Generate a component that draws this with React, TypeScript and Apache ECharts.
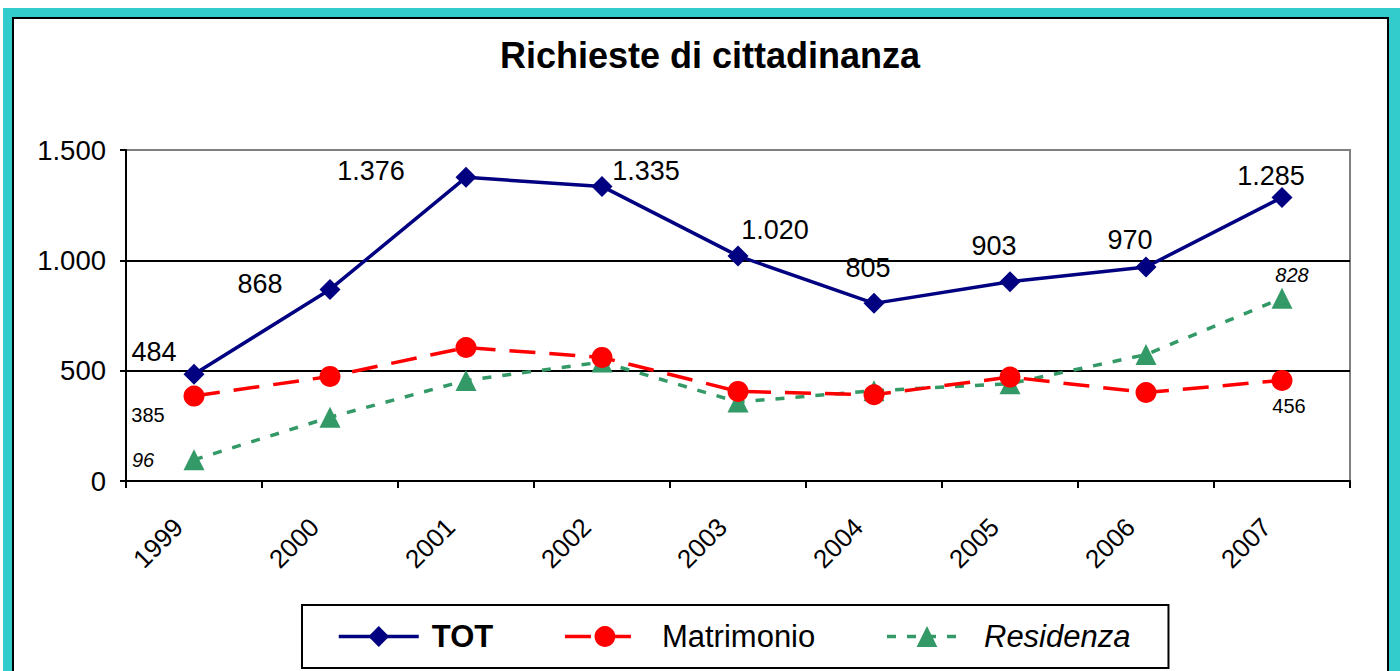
import React, { useEffect, useRef } from 'react';
import * as echarts from 'echarts';

const years = ['1999', '2000', '2001', '2002', '2003', '2004', '2005', '2006', '2007'];
const totValues = [484, 868, 1376, 1335, 1020, 805, 903, 970, 1285];
const matrimonioValues = [385, 474, 605, 560, 406, 391, 471, 401, 456];
const residenzaValues = [96, 289, 456, 539, 358, 409, 441, 573, 828];
const yMin = 0;
const yMax = 1500;
const yStep = 500;

// label layout (offsets from the marker, in px)
const totLabelOffsets = [[-40, -22], [-70, -5], [-95, -6], [44, -15], [37, -26], [-6, -35], [-16, -36], [-16, -27], [-11, -21]];
const matrimonioLabelOffsets: Record<number, number[]> = { 0: [-46, 19], 8: [7, 26] };
const residenzaLabelOffsets: Record<number, number[]> = { 0: [-51, 0], 8: [10, -23] };

const FONT = '"Liberation Sans", Arial, sans-serif';
const fmt = (v: number) => String(v).replace(/\B(?=(\d{3})+(?!\d))/g, '.');

export default function App() {
  const ref = useRef<HTMLDivElement>(null);
  useEffect(() => {
    if (!ref.current) return;
    const chart = echarts.init(ref.current, undefined, { renderer: 'svg' });
    const mkData = (vals: number[], offsets: Record<number, number[]>, size: number, italic: boolean) =>
      vals.map((v, i) => ({
        value: v,
        label: offsets[i]
          ? {
              show: true,
              position: 'inside',
              offset: offsets[i],
              formatter: fmt(v),
              fontSize: size,
              fontStyle: italic ? 'italic' : 'normal',
              color: '#000',
              fontFamily: FONT,
            }
          : { show: false },
      }));
    const totOffsets: Record<number, number[]> = {};
    totLabelOffsets.forEach((o, i) => (totOffsets[i] = o));
    chart.setOption({
      animation: false,
      backgroundColor: 'transparent',
      textStyle: { fontFamily: FONT },
      title: {
        text: 'Richieste di cittadinanza',
        left: 495,
        top: 32,
        textStyle: { fontSize: 36, fontWeight: 'bold', color: '#000', fontFamily: FONT },
      },
      grid: {
        left: 126,
        right: 50,
        top: 150,
        bottom: 190,
        show: true,
        borderColor: '#808080',
        borderWidth: 2,
        backgroundColor: 'transparent',
      },
      xAxis: {
        type: 'category',
        data: years,
        boundaryGap: true,
        axisLine: { show: true, lineStyle: { color: '#000', width: 2 } },
        axisTick: { show: true, length: 7, lineStyle: { color: '#000', width: 2 } },
        axisLabel: {
          rotate: 45,
          fontSize: 26,
          color: '#000',
          margin: 26,
          padding: [0, 22, 0, 0],
          fontFamily: FONT,
        },
        splitLine: { show: false },
      },
      yAxis: {
        type: 'value',
        min: yMin,
        max: yMax,
        interval: yStep,
        axisLine: { show: true, lineStyle: { color: '#000', width: 2 } },
        axisTick: { show: true, length: 6, lineStyle: { color: '#000', width: 2 } },
        axisLabel: { fontSize: 27.5, color: '#000', margin: 20, formatter: (v: number) => fmt(v), fontFamily: FONT },
        splitLine: { show: true, lineStyle: { color: ['#000', '#000', '#000', '#808080'], width: 2 } },
      },
      legend: {
        left: 302,
        top: 605,
        orient: 'horizontal',
        borderColor: '#000',
        borderWidth: 2,
        backgroundColor: '#fff',
        padding: [16, 38, 16, 35],
        itemGap: 70,
        itemWidth: 80,
        itemHeight: 26,
        lineStyle: { width: 3.5 },
        textStyle: {
          fontFamily: FONT,
          fontSize: 31,
          color: '#000',
          rich: {
            b: { fontSize: 31, fontWeight: 'bold', padding: [0, 0, 0, 8], fontFamily: FONT },
            n: { fontSize: 31, padding: [0, 0, 0, 12], fontFamily: FONT },
            it: { fontSize: 31, fontStyle: 'italic', padding: [0, 0, 0, 12], fontFamily: FONT },
          },
        },
        formatter: (name: string) => {
          if (name === 'TOT') return '{b|TOT}';
          if (name === 'Residenza') return '{it|Residenza}';
          return '{n|' + name + '}';
        },
        data: ['TOT', 'Matrimonio', 'Residenza'],
      },
      series: [
        {
          name: 'Residenza',
          type: 'line',
          data: mkData(residenzaValues, residenzaLabelOffsets, 20, true),
          symbol: 'triangle',
          symbolSize: 21,
          itemStyle: { color: '#339966' },
          lineStyle: { color: '#339966', width: 3.5, type: [9, 11] },
          z: 3,
        },
        {
          name: 'Matrimonio',
          type: 'line',
          data: mkData(matrimonioValues, matrimonioLabelOffsets, 20, false),
          symbol: 'circle',
          symbolSize: 21,
          itemStyle: { color: '#ff0000' },
          lineStyle: { color: '#ff0000', width: 3.5, type: [26, 14] },
          z: 4,
        },
        {
          name: 'TOT',
          type: 'line',
          data: mkData(totValues, totOffsets, 27, false),
          symbol: 'diamond',
          symbolSize: 21,
          itemStyle: { color: '#000080' },
          lineStyle: { color: '#000080', width: 3.5 },
          z: 5,
        },
      ],
    });
    return () => chart.dispose();
  }, []);

  return (
    <div style={{ position: 'fixed', left: 0, top: 0, width: 1400, height: 671, background: '#fff', overflow: 'hidden' }}>
      <div style={{ position: 'absolute', left: 3, top: 8, width: 1400, height: 700, background: '#33cccc' }} />
      <div
        style={{
          position: 'absolute',
          left: 12,
          top: 17,
          width: 1377,
          height: 700,
          background: '#fff',
          border: '2px solid #000',
          boxSizing: 'border-box',
        }}
      />
      <div ref={ref} style={{ position: 'absolute', left: 0, top: 0, width: 1400, height: 671 }} />
    </div>
  );
}
